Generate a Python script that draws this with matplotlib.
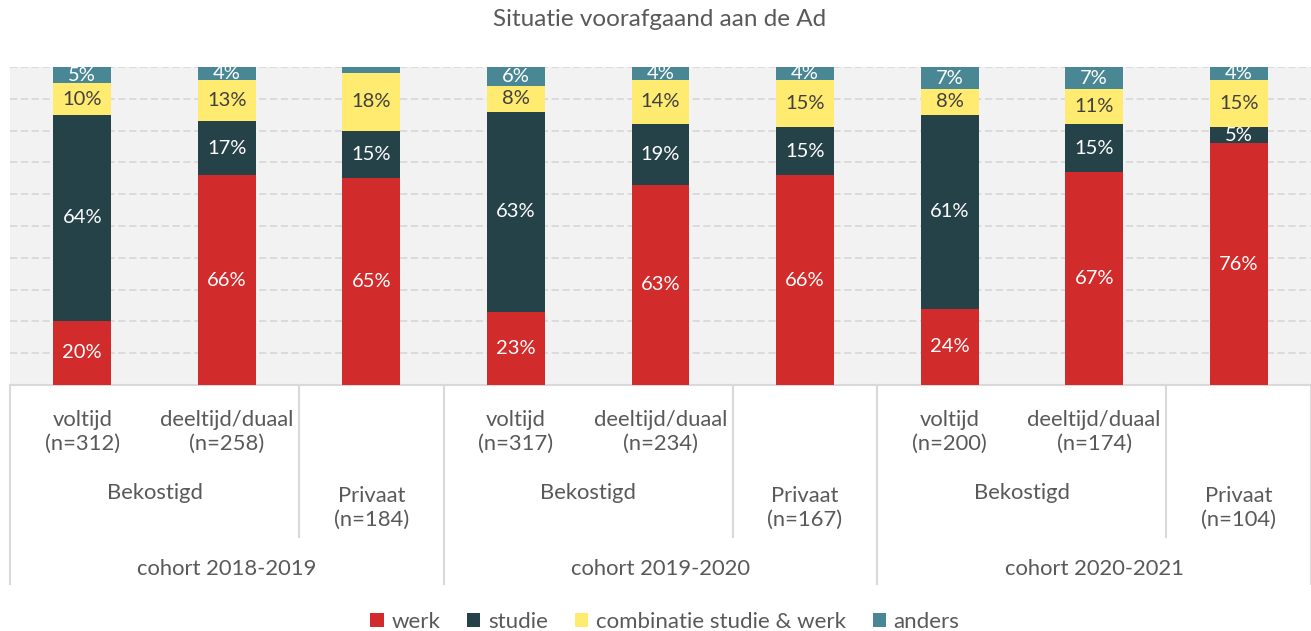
import numpy as np
import matplotlib.pyplot as plt
from matplotlib.patches import Patch

plt.rcParams['font.family'] = ['Lato', 'DejaVu Sans']

# data (percentages as shown in the labels)
subgroups = ["voltijd\n(n=312)", "deeltijd/duaal\n(n=258)", "",
             "voltijd\n(n=317)", "deeltijd/duaal\n(n=234)", "",
             "voltijd\n(n=200)", "deeltijd/duaal\n(n=174)", ""]
funding = ["Bekostigd", "Privaat\n(n=184)",
           "Bekostigd", "Privaat\n(n=167)",
           "Bekostigd", "Privaat\n(n=104)"]
cohorts = ["cohort 2018-2019", "cohort 2019-2020", "cohort 2020-2021"]

werk = [20, 66, 65, 23, 63, 66, 24, 67, 76]
studie = [64, 17, 15, 63, 19, 15, 61, 15, 5]
combinatie = [10, 13, 18, 8, 14, 15, 8, 11, 15]
anders = [5, 4, 2, 6, 4, 4, 7, 7, 4]

series = [("werk", werk, "#D22B2B", "white"),
          ("studie", studie, "#264249", "white"),
          ("combinatie studie & werk", combinatie, "#FFEB70", "#404040"),
          ("anders", anders, "#4A8794", "white")]

W, H = 1311, 631
fig = plt.figure(figsize=(W / 100, H / 100), dpi=100)
ax = fig.add_axes([10 / W, (H - 385) / H, 1301 / W, 318 / H])
ax.set_facecolor("#F2F2F2")

vals = np.array([s[1] for s in series], dtype=float)
tot = vals.sum(axis=0)
x = np.arange(len(werk))
bottom = np.zeros(len(werk))
for (name, v, col, tc), row in zip(series, vals):
    share = row / tot * 100
    ax.bar(x, share, bottom=bottom, width=0.4, color=col, zorder=3)
    for xi, b, h, lab in zip(x, bottom, share, v):
        if lab >= 4:
            ax.text(xi, b + h / 2, f"{lab}%", ha="center", va="center",
                    color=tc, fontsize=14.5, zorder=4)
    bottom += share

ax.set_xlim(-0.5, len(werk) - 0.5)
ax.set_ylim(0, 100)
ax.set_yticks(np.arange(10, 101, 10))
ax.yaxis.grid(True, linestyle=(0, (4, 2)), color="#D9D9D9", linewidth=1.3, zorder=1)
ax.tick_params(left=False, bottom=False, labelleft=False, labelbottom=False)
for sp in ["top", "left", "right"]:
    ax.spines[sp].set_visible(False)
ax.spines["bottom"].set_color("#D9D9D9")
ax.spines["bottom"].set_linewidth(1.5)

# multi-level category axis
tr = ax.get_xaxis_transform()
txt = "#595959"
fs = 15.8
def yf(py):
    return (385 - py) / 318

for xi, lab in zip(x, subgroups):
    ax.text(xi, yf(432), lab, transform=tr, ha="center", va="center",
            color=txt, fontsize=fs, linespacing=1.28)
for i, lab in enumerate(funding):
    c = i // 2
    if i % 2 == 0:
        xc = 3 * c + 0.5
        ax.text(xc, yf(493), lab, transform=tr, ha="center", va="center",
                color=txt, fontsize=fs)
    else:
        xc = 3 * c + 2
        ax.text(xc, yf(508), lab, transform=tr, ha="center", va="center",
                color=txt, fontsize=fs, linespacing=1.28)
for c, lab in enumerate(cohorts):
    ax.text(3 * c + 1, yf(569), lab, transform=tr, ha="center", va="center",
            color=txt, fontsize=fs)

for xb in [-0.5, 2.5, 5.5, 8.5]:
    ax.plot([xb, xb], [0, yf(584)], transform=tr, color="#D9D9D9",
            linewidth=1.5, clip_on=False)
for xb in [1.5, 4.5, 7.5]:
    ax.plot([xb, xb], [0, yf(537)], transform=tr, color="#D9D9D9",
            linewidth=1.5, clip_on=False)

fig.text(660 / W, 1 - 20 / H, "Situatie voorafgaand aan de Ad", ha="center",
         va="center", color=txt, fontsize=17.5)

handles = [Patch(facecolor=s[2], label=s[0]) for s in series]
fig.legend(handles=handles, loc="center", bbox_to_anchor=(665 / W, 1 - 622 / H),
           ncol=4, frameon=False, fontsize=16, labelcolor=txt,
           handlelength=0.6, handleheight=0.6, handletextpad=0.35, columnspacing=1.2)

fig.savefig("out.png", dpi=100)
